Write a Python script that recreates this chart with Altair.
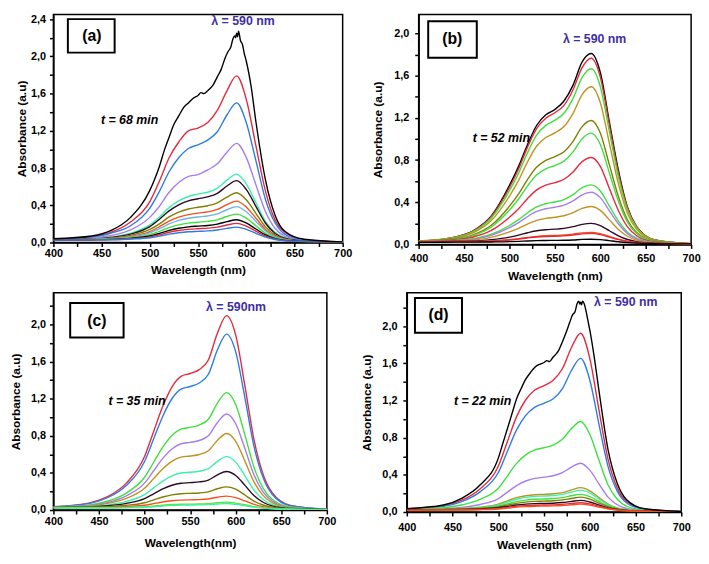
import altair as alt
import pandas as pd

# ---------------- data ----------------
WL = [400, 440, 460, 480, 500, 510, 520, 530, 540, 550, 560, 570, 580, 590, 600, 610, 620, 630, 640, 660, 700]
FINE_WL = [400, 440, 460, 480, 500, 505, 510, 515, 520, 525, 530, 535, 540, 545, 550, 553, 556, 560, 563, 566,
           570, 574, 578, 581, 584, 586, 588, 589, 590, 591, 592, 594, 596, 598, 600, 605, 610, 620, 630, 640, 660, 700]

X_TICKS = [400, 425, 450, 475, 500, 525, 550, 575, 600, 625, 650, 675, 700]
Y_TICKS_A = [0, 0.2, 0.4, 0.6, 0.8, 1.0, 1.2, 1.4, 1.6, 1.8, 2.0, 2.2, 2.4]
Y_TICKS = [0, 0.2, 0.4, 0.6, 0.8, 1.0, 1.2, 1.4, 1.6, 1.8, 2.0, 2.2]

BLACK = "#000000"
RED = "#E8283C"
BLUE = "#2B7DE3"
PURPLE = "#A77DE9"
AQUA = "#3DF0AA"
DARK = "#2C0A26"
OLIVE = "#7F7F00"
ORANGE = "#F5501C"
LBLUE = "#6EB2DF"
GREEN = "#3EE03E"
LIME = "#60E620"
GOLD = "#C09222"
LAMBDA_COLOR = "#3F2FA3"

# panel (a)
A_BLACK = [0.04, 0.07, 0.13, 0.27, 0.56, 0.68, 0.82, 0.99, 1.13, 1.27, 1.36, 1.45, 1.50, 1.55, 1.58, 1.61, 1.60, 1.63,
           1.66, 1.70, 1.78, 1.86, 1.98, 2.05, 2.10, 2.18, 2.22, 2.20, 2.25, 2.21, 2.27, 2.17, 2.13, 2.03, 1.95, 1.68,
           1.30, 0.67, 0.29, 0.12, 0.035, 0.006]
A_SPECTRA = [
    [0.03, 0.06, 0.11, 0.22, 0.44, 0.66, 0.91, 1.08, 1.20, 1.23, 1.29, 1.42, 1.63, 1.79, 1.54, 1.04, 0.55, 0.24, 0.11, 0.03, 0.006],
    [0.03, 0.055, 0.10, 0.18, 0.37, 0.55, 0.76, 0.91, 1.01, 1.05, 1.10, 1.19, 1.37, 1.50, 1.29, 0.88, 0.46, 0.21, 0.09, 0.026, 0.005],
    [0.03, 0.046, 0.075, 0.135, 0.27, 0.39, 0.54, 0.645, 0.71, 0.73, 0.78, 0.845, 0.97, 1.065, 0.915, 0.62, 0.33, 0.15, 0.068, 0.02, 0.005],
    [0.029, 0.04, 0.058, 0.10, 0.19, 0.275, 0.375, 0.447, 0.494, 0.52, 0.54, 0.584, 0.67, 0.735, 0.63, 0.43, 0.228, 0.106, 0.05, 0.017, 0.005],
    [0.028, 0.038, 0.055, 0.09, 0.17, 0.25, 0.34, 0.405, 0.447, 0.47, 0.49, 0.528, 0.607, 0.665, 0.57, 0.389, 0.207, 0.097, 0.046, 0.016, 0.005],
    [0.028, 0.035, 0.048, 0.077, 0.14, 0.20, 0.275, 0.327, 0.36, 0.379, 0.395, 0.426, 0.488, 0.535, 0.459, 0.314, 0.168, 0.08, 0.039, 0.014, 0.004],
    [0.027, 0.034, 0.044, 0.067, 0.118, 0.17, 0.23, 0.273, 0.30, 0.316, 0.329, 0.355, 0.406, 0.445, 0.382, 0.261, 0.141, 0.068, 0.034, 0.013, 0.004],
    [0.026, 0.032, 0.04, 0.06, 0.104, 0.148, 0.20, 0.237, 0.261, 0.274, 0.285, 0.307, 0.352, 0.385, 0.33, 0.227, 0.123, 0.06, 0.03, 0.012, 0.004],
    [0.026, 0.031, 0.037, 0.052, 0.085, 0.119, 0.16, 0.189, 0.208, 0.218, 0.227, 0.244, 0.279, 0.305, 0.261, 0.18, 0.099, 0.05, 0.026, 0.011, 0.004],
    [0.026, 0.03, 0.034, 0.045, 0.07, 0.098, 0.13, 0.153, 0.168, 0.176, 0.183, 0.197, 0.224, 0.245, 0.21, 0.145, 0.081, 0.042, 0.023, 0.011, 0.004],
    [0.025, 0.029, 0.032, 0.041, 0.061, 0.083, 0.11, 0.129, 0.141, 0.148, 0.154, 0.165, 0.188, 0.205, 0.175, 0.122, 0.069, 0.037, 0.02, 0.01, 0.004],
    [0.025, 0.028, 0.03, 0.037, 0.051, 0.069, 0.09, 0.105, 0.115, 0.12, 0.125, 0.134, 0.152, 0.165, 0.141, 0.099, 0.057, 0.032, 0.018, 0.01, 0.004],
]
A_COLORS = [RED, BLUE, PURPLE, AQUA, DARK, OLIVE, ORANGE, LBLUE, GREEN, BLACK, RED, BLUE]

# panel (b)
B_SPECTRA = [
    [0.03, 0.07, 0.13, 0.27, 0.56, 0.74, 0.95, 1.13, 1.23, 1.28, 1.36, 1.51, 1.73, 1.81, 1.63, 1.16, 0.70, 0.35, 0.17, 0.044, 0.008],
    [0.03, 0.069, 0.127, 0.265, 0.54, 0.715, 0.925, 1.10, 1.196, 1.249, 1.319, 1.467, 1.677, 1.765, 1.587, 1.132, 0.677, 0.345, 0.168, 0.043, 0.008],
    [0.033, 0.066, 0.121, 0.251, 0.51, 0.675, 0.873, 1.038, 1.129, 1.178, 1.244, 1.385, 1.583, 1.665, 1.497, 1.068, 0.639, 0.326, 0.159, 0.041, 0.007],
    [0.032, 0.062, 0.111, 0.227, 0.459, 0.607, 0.785, 0.933, 1.014, 1.058, 1.118, 1.243, 1.421, 1.495, 1.344, 0.959, 0.574, 0.293, 0.143, 0.038, 0.007],
    [0.031, 0.054, 0.092, 0.182, 0.363, 0.479, 0.618, 0.734, 0.798, 0.833, 0.879, 0.978, 1.117, 1.175, 1.056, 0.754, 0.453, 0.232, 0.114, 0.031, 0.006],
    [0.03, 0.051, 0.084, 0.166, 0.327, 0.431, 0.556, 0.66, 0.717, 0.748, 0.79, 0.878, 1.003, 1.055, 0.948, 0.678, 0.407, 0.21, 0.104, 0.029, 0.006],
    [0.029, 0.045, 0.071, 0.133, 0.258, 0.339, 0.436, 0.517, 0.562, 0.586, 0.618, 0.687, 0.785, 0.825, 0.741, 0.53, 0.32, 0.166, 0.083, 0.024, 0.006],
    [0.028, 0.039, 0.055, 0.097, 0.18, 0.235, 0.301, 0.356, 0.386, 0.403, 0.425, 0.472, 0.538, 0.565, 0.507, 0.364, 0.221, 0.117, 0.06, 0.019, 0.005],
    [0.027, 0.037, 0.051, 0.087, 0.159, 0.207, 0.265, 0.313, 0.339, 0.353, 0.373, 0.413, 0.471, 0.495, 0.444, 0.319, 0.194, 0.103, 0.053, 0.018, 0.005],
    [0.027, 0.034, 0.043, 0.068, 0.119, 0.153, 0.194, 0.229, 0.248, 0.258, 0.272, 0.301, 0.343, 0.36, 0.323, 0.233, 0.143, 0.078, 0.041, 0.015, 0.005],
    [0.026, 0.03, 0.033, 0.046, 0.07, 0.089, 0.111, 0.13, 0.14, 0.145, 0.153, 0.169, 0.191, 0.2, 0.179, 0.13, 0.082, 0.047, 0.027, 0.012, 0.004],
    [0.025, 0.028, 0.028, 0.034, 0.045, 0.055, 0.067, 0.077, 0.083, 0.086, 0.09, 0.098, 0.11, 0.115, 0.102, 0.076, 0.05, 0.031, 0.019, 0.01, 0.004],
    [0.024, 0.027, 0.027, 0.032, 0.042, 0.051, 0.062, 0.071, 0.076, 0.078, 0.082, 0.09, 0.1, 0.105, 0.093, 0.07, 0.046, 0.029, 0.018, 0.01, 0.004],
    [0.02, 0.022, 0.022, 0.024, 0.027, 0.03, 0.033, 0.036, 0.038, 0.039, 0.04, 0.043, 0.048, 0.05, 0.046, 0.036, 0.026, 0.018, 0.013, 0.008, 0.004],
]
B_COLORS = [BLACK, RED, GREEN, GOLD, OLIVE, GREEN, RED, GREEN, PURPLE, GOLD, DARK, ORANGE, RED, BLACK]

# panel (c)
C_SPECTRA = [
    [0.035, 0.077, 0.147, 0.29, 0.577, 0.847, 1.117, 1.325, 1.44, 1.471, 1.513, 1.617, 1.908, 2.095, 1.884, 1.343, 0.761, 0.386, 0.187, 0.05, 0.008],
    [0.034, 0.072, 0.135, 0.264, 0.523, 0.767, 1.011, 1.199, 1.303, 1.331, 1.369, 1.463, 1.726, 1.895, 1.704, 1.215, 0.689, 0.35, 0.17, 0.046, 0.008],
    [0.031, 0.056, 0.097, 0.183, 0.353, 0.515, 0.678, 0.803, 0.871, 0.89, 0.915, 0.978, 1.153, 1.265, 1.137, 0.812, 0.462, 0.237, 0.116, 0.033, 0.007],
    [0.03, 0.051, 0.083, 0.153, 0.29, 0.423, 0.556, 0.658, 0.714, 0.729, 0.749, 0.8, 0.943, 1.035, 0.93, 0.665, 0.379, 0.196, 0.097, 0.028, 0.006],
    [0.029, 0.045, 0.071, 0.125, 0.234, 0.339, 0.444, 0.525, 0.57, 0.582, 0.598, 0.639, 0.752, 0.825, 0.741, 0.53, 0.304, 0.158, 0.079, 0.024, 0.006],
    [0.028, 0.039, 0.056, 0.093, 0.166, 0.239, 0.312, 0.368, 0.399, 0.407, 0.418, 0.446, 0.525, 0.575, 0.516, 0.37, 0.214, 0.113, 0.058, 0.019, 0.005],
    [0.027, 0.035, 0.046, 0.072, 0.123, 0.175, 0.227, 0.267, 0.289, 0.295, 0.303, 0.323, 0.379, 0.415, 0.372, 0.268, 0.156, 0.084, 0.044, 0.016, 0.005],
    [0.026, 0.031, 0.036, 0.051, 0.078, 0.109, 0.14, 0.163, 0.176, 0.18, 0.184, 0.196, 0.229, 0.25, 0.224, 0.162, 0.097, 0.054, 0.03, 0.013, 0.004],
    [0.026, 0.028, 0.03, 0.038, 0.051, 0.069, 0.087, 0.1, 0.107, 0.11, 0.112, 0.119, 0.138, 0.15, 0.134, 0.098, 0.061, 0.036, 0.021, 0.011, 0.004],
    [0.025, 0.027, 0.026, 0.029, 0.034, 0.043, 0.052, 0.059, 0.063, 0.064, 0.065, 0.069, 0.079, 0.085, 0.075, 0.057, 0.037, 0.025, 0.016, 0.009, 0.004],
    [0.02, 0.022, 0.022, 0.025, 0.03, 0.036, 0.044, 0.05, 0.053, 0.054, 0.055, 0.058, 0.065, 0.07, 0.062, 0.047, 0.031, 0.021, 0.014, 0.008, 0.004],
]
C_COLORS = [RED, BLUE, GREEN, PURPLE, GOLD, AQUA, DARK, OLIVE, ORANGE, LIME, AQUA]

# panel (d)
D_BLACK = [0.036, 0.075, 0.147, 0.29, 0.58, 0.74, 0.90, 1.06, 1.22, 1.33, 1.43, 1.50, 1.56, 1.59, 1.61, 1.63, 1.62, 1.67,
           1.70, 1.74, 1.83, 1.93, 2.04, 2.12, 2.16, 2.24, 2.27, 2.24, 2.26, 2.23, 2.27, 2.24, 2.16, 2.06, 1.96, 1.66,
           1.31, 0.67, 0.31, 0.135, 0.035, 0.006]
D_SPECTRA = [
    [0.035, 0.067, 0.127, 0.249, 0.493, 0.76, 1.027, 1.209, 1.314, 1.362, 1.419, 1.543, 1.772, 1.925, 1.655, 1.101, 0.566, 0.26, 0.115, 0.031, 0.006],
    [0.033, 0.061, 0.112, 0.217, 0.425, 0.655, 0.884, 1.04, 1.13, 1.171, 1.22, 1.327, 1.524, 1.655, 1.422, 0.947, 0.488, 0.225, 0.1, 0.028, 0.006],
    [0.03, 0.046, 0.075, 0.135, 0.255, 0.389, 0.524, 0.615, 0.668, 0.692, 0.721, 0.783, 0.898, 0.975, 0.838, 0.559, 0.29, 0.137, 0.063, 0.02, 0.005],
    [0.028, 0.036, 0.05, 0.081, 0.143, 0.214, 0.285, 0.334, 0.362, 0.375, 0.39, 0.423, 0.484, 0.525, 0.451, 0.303, 0.16, 0.078, 0.038, 0.014, 0.004],
    [0.026, 0.031, 0.037, 0.052, 0.085, 0.12, 0.155, 0.175, 0.186, 0.19, 0.196, 0.208, 0.238, 0.262, 0.228, 0.155, 0.085, 0.045, 0.024, 0.011, 0.004],
    [0.026, 0.03, 0.035, 0.048, 0.077, 0.107, 0.137, 0.158, 0.168, 0.172, 0.178, 0.19, 0.215, 0.235, 0.205, 0.14, 0.078, 0.042, 0.022, 0.01, 0.004],
    [0.025, 0.029, 0.032, 0.043, 0.065, 0.088, 0.112, 0.128, 0.137, 0.14, 0.145, 0.155, 0.175, 0.19, 0.166, 0.114, 0.065, 0.036, 0.02, 0.01, 0.004],
    [0.025, 0.028, 0.03, 0.038, 0.055, 0.074, 0.093, 0.107, 0.114, 0.117, 0.121, 0.13, 0.146, 0.16, 0.138, 0.096, 0.056, 0.032, 0.018, 0.009, 0.004],
    [0.024, 0.026, 0.028, 0.034, 0.046, 0.06, 0.075, 0.085, 0.09, 0.092, 0.095, 0.102, 0.114, 0.125, 0.108, 0.076, 0.045, 0.027, 0.016, 0.008, 0.004],
    [0.022, 0.024, 0.025, 0.03, 0.039, 0.05, 0.062, 0.069, 0.073, 0.075, 0.077, 0.082, 0.092, 0.1, 0.087, 0.062, 0.038, 0.024, 0.015, 0.008, 0.004],
    [0.018, 0.02, 0.021, 0.025, 0.033, 0.042, 0.052, 0.058, 0.062, 0.064, 0.066, 0.07, 0.078, 0.085, 0.074, 0.053, 0.033, 0.021, 0.013, 0.007, 0.003],
]
D_COLORS = [RED, BLUE, GREEN, PURPLE, GOLD, AQUA, GREEN, OLIVE, DARK, RED, ORANGE]

FONT = "Liberation Sans"
# label only every other tick (major ticks); the ones between are minor ticks
Y_LABEL_EXPR = "round(datum.value * 10) % 4 == 0 ? replace(format(datum.value, '.1f'), '.', ',') : ''"
X_LABEL_EXPR = "datum.value % 50 == 0 ? datum.label : ''"


def build_df(spectra, colors, black=None):
    rows = []
    for i, (vals, col) in enumerate(zip(spectra, colors)):
        key = "s%02d" % (len(spectra) - i)
        for w, v in zip(WL, vals):
            rows.append({"wl": w, "A": v, "id": key, "c": col})
    if black is not None:
        for w, v in zip(FINE_WL, black):
            rows.append({"wl": w, "A": v, "id": "s99", "c": BLACK})
    return pd.DataFrame(rows)


def panel(df, ymax, yticks, w, h, xtitle, ypads, xpads, box, tag, tag_pos, lam, lam_pos, tlabel, t_pos):
    x = alt.X("wl:Q", scale=alt.Scale(domain=[400, 700], nice=False, zero=False),
              axis=alt.Axis(values=X_TICKS, title=xtitle, labelFlush=False, labelOverlap=False,
                            labelExpr=X_LABEL_EXPR,
                            labelPadding=xpads[0], titlePadding=xpads[1]))
    y = alt.Y("A:Q", scale=alt.Scale(domain=[0, ymax], nice=False),
              axis=alt.Axis(values=yticks, title="Absorbance (a.u)", labelExpr=Y_LABEL_EXPR,
                            labelOverlap=False,
                            labelPadding=ypads[0], titlePadding=ypads[1]))
    lines = alt.Chart(df).mark_line(interpolate="monotone", strokeWidth=1.4, clip=True).encode(
        x=x, y=y, color=alt.Color("c:N", scale=None), detail="id:N",
        order=alt.Order("wl:Q"))
    bx = alt.Chart(pd.DataFrame({"wl": [box[0]], "wl2": [box[1]], "A": [box[2]], "A2": [box[3]]})).mark_rect(
        fill="white", stroke="black", strokeWidth=2).encode(
        x=x, x2="wl2:Q", y=y, y2="A2:Q")
    tg = alt.Chart(pd.DataFrame({"wl": [tag_pos[0]], "A": [tag_pos[1]], "t": [tag]})).mark_text(
        font=FONT, fontWeight="bold", fontSize=16, color="black").encode(
        x=x, y=y, text="t:N")
    lm = alt.Chart(pd.DataFrame({"wl": [lam_pos[0]], "A": [lam_pos[1]], "t": [lam]})).mark_text(
        font=FONT, fontWeight="bold", fontSize=12.5, color=LAMBDA_COLOR).encode(
        x=x, y=y, text="t:N")
    tt = alt.Chart(pd.DataFrame({"wl": [t_pos[0]], "A": [t_pos[1]], "t": [tlabel]})).mark_text(
        font=FONT, fontWeight="bold", fontStyle="italic", fontSize=12.5, color="black").encode(
        x=x, y=y, text="t:N")
    return alt.layer(lines, bx, tg, lm, tt).properties(width=w, height=h)


pa = panel(build_df(A_SPECTRA, A_COLORS, A_BLACK), 2.45, Y_TICKS_A, 293, 231,
           "Wavelength (nm)", (4, 2), (1, 6), (415, 463.5, 2.40, 2.04), "(a)", (440, 2.22),
           "λ = 590 nm", (596.6, 2.38), "t = 68 min", (479, 1.32))
pb = panel(build_df(B_SPECTRA, B_COLORS), 2.18, Y_TICKS, 276, 233,
           "Wavelength (nm)", (6, 9), (4, 7), (410.5, 464, 2.115, 1.77), "(b)", (437, 1.95),
           "λ = 590 nm", (593.7, 1.95), "t = 52 min", (491, 1.01))
pc = panel(build_df(C_SPECTRA, C_COLORS), 2.34, Y_TICKS, 277, 220,
           "Wavelength(nm)", (4, 8.5), (2, 11), (418.4, 477, 2.23, 1.86), "(c)", (447.7, 2.04),
           "λ = 590nm", (600.4, 2.19), "t = 35 min", (491.7, 1.17))
pd_ = panel(build_df(D_SPECTRA, D_COLORS, D_BLACK), 2.36, Y_TICKS, 278, 222,
            "Wavelength (nm)", (6, 9), (6, 7), (408.9, 460.3, 2.305, 1.93), "(d)", (434.6, 2.12),
            "λ = 590 nm", (639.3, 2.26), "t = 22 min", (482.8, 1.20))

chart = alt.vconcat(
    alt.hconcat(pa, pb, spacing=18),
    alt.hconcat(pc, pd_, spacing=22),
    spacing=10,
).properties(padding=0).configure(padding=0).configure_view(
    stroke="black", strokeWidth=1.5
).configure_axis(
    grid=False, domainColor="black", domainWidth=1.5, tickColor="black", tickWidth=1.5, tickSize=4,
    labelFont=FONT, labelFontWeight="bold", labelFontSize=11, labelColor="black",
    titleFont=FONT, titleFontWeight="bold", titleFontSize=12, titleColor="black",
).configure_text(baseline="middle")

chart.save("out.html", embed_options={"renderer": "svg", "actions": False})
